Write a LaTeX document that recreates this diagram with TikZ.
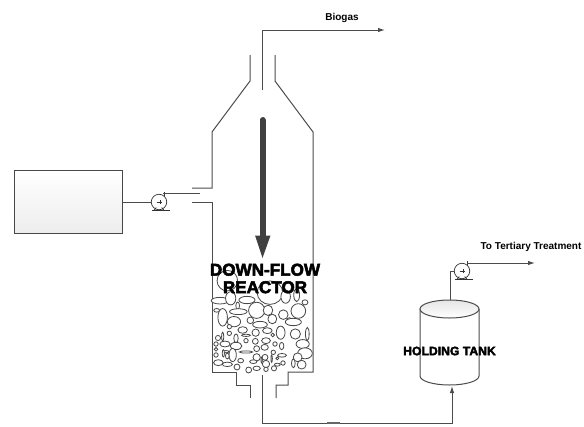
\documentclass[tikz,border=0pt]{standalone}
\usepackage{fontspec}
\setmainfont{Liberation Sans}
\newfontfamily\heavy[UprightFont={* Bold},FakeBold=3]{Liberation Sans}
\usetikzlibrary{arrows.meta,shadows}
\tikzset{
  x=1pt,y=-1pt,
  wall/.style={draw=black!70,line width=1pt},
  pipe/.style={draw=black!70,line width=1pt},
  flow/.style={pipe,-{Latex[length=7pt,width=4.5pt,black!70]}},
  bead/.style={draw=black!72,line width=.8pt,fill=white},
  pumpbody/.style={circle,draw=black!80,line width=.7pt,minimum size=15.5pt,inner sep=0pt},
  pumpbase/.style={draw=black!80,line width=.8pt},
  feedtank/.style={draw=black!72,line width=1pt,top color=white,bottom color=black!7,minimum width=108pt,minimum height=63pt,inner sep=0pt,drop shadow={shadow xshift=1pt,shadow yshift=-1pt,fill=black!25,opacity=.5}},
  bigtext/.style={font=\heavy\fontsize{17.1}{19}\selectfont,align=center,inner sep=0pt},
  tanktext/.style={font=\heavy\fontsize{12.2}{14}\selectfont,inner sep=0pt},
  smalltext/.style={font=\bfseries\fontsize{10}{11}\selectfont,inner sep=0pt},
}
\newcommand{\pumpmark}[1]{%
  \draw[pumpbase] (#1.center)++(-2.5,0) -- ++(5,0) (#1.center)++(1,-2.2) -- ++(0,4.4);
  \draw[pumpbase] (#1.south west)++(-1.5,2.3) -- ++(18,0);
  \draw[pumpbase] (#1.south west)++(1,2.3) -- ++(2,-2.5) (#1.south east)++(-1,2.3) -- ++(-2,-2.5);
  \draw[pumpbase] (#1.center)++(5,-10) -- ++(0,3.5);
}
\begin{document}
\begin{tikzpicture}
\useasboundingbox (0,0) rectangle (584,426);
% reactor walls
\coordinate (nl) at (250,55); \coordinate (nr) at (275,55);
\coordinate (sl) at (250,81); \coordinate (sr) at (275,81);
\coordinate (ul) at (212,132); \coordinate (ur) at (313,132);
\coordinate (il) at (212,188); \coordinate (iu) at (192,188);
\coordinate (jl) at (212,202); \coordinate (ju) at (192,202);
\coordinate (bl) at (212,372); \coordinate (br) at (313,372);
\draw[wall] (nl) -- (sl) -- (ul) -- (il) -- (iu);
\draw[wall] (ju) -- (jl) -- (bl) -- (236,372) -- (236,385) -- (250,385) -- (250,398);
\draw[wall] (nr) -- (sr) -- (ur) -- (br) -- (288,372) -- (288,385) -- (276,385) -- (276,398);
% media
\begin{scope}[shift={(190,250)},x=.3333pt,y=-.3333pt]
\foreach \px/\py/\ra/\rb in {
 112/92/28/28, 240/128/35/32, 90/152/24/9, 122/145/14/18, 171/150/22/10, 287/140/13/18,
 320/135/8/18, 345/157/8/7, 143/167/5/10, 80/181/8/5, 98/202/13/24, 145/185/24/8,
 200/181/22/22, 234/181/13/14, 280/194/13/13, 325/183/20/20, 132/215/18/14, 181/211/9/9,
 210/224/20/9, 247/207/12/13, 298/214/8/10, 310/216/22/10, 118/230/6/6, 158/240/13/9,
 197/248/10/10, 232/242/13/8, 272/248/12/18, 316/252/14/14, 352/252/5/18, 118/250/6/6,
 98/260/3/12, 84/264/7/7, 138/265/6/12, 168/256/12/3, 196/274/8/8, 228/272/12/8,
 248/255/5/5, 168/272/6/6, 105/282/14/8, 138/288/16/10, 78/282/6/6, 275/288/6/10,
 255/282/6/6, 338/282/18/12, 224/292/10/8, 200/296/8/8, 168/306/18/3, 345/310/20/15,
 78/298/5/5, 78/315/6/6, 108/305/8/3, 128/315/10/18, 100/310/3/10, 112/318/5/8,
 250/307/6/6, 200/322/10/10, 225/322/8/8, 276/316/12/5, 323/322/12/12, 245/326/2/10,
 215/330/2/8, 262/325/4/4, 152/332/8/6, 190/335/10/5, 85/338/13/8, 112/343/14/6,
 310/340/5/12, 335/344/12/12, 228/342/10/10, 141/351/8/8, 176/360/8/8, 200/355/10/6,
 228/358/6/6, 252/355/7/7, 262/344/8/4, 279/339/6/6}
 \draw[bead] (\px,\py) ellipse [x radius={1.1*\ra}, y radius={1.1*\rb}];
\end{scope}
% feed tank and pump
\node[feedtank] (feed) at (68,201.5) {};
\node[pumpbody] (pumpa) at (159,202) {};
\pumpmark{pumpa}
\coordinate (inlet) at (200,193);
\coordinate (pumpaout) at (163,193);
\draw[pipe] (feed.east |- pumpa) -- (pumpa.west);
\draw[pipe] (pumpaout) -- (inlet);
% biogas line
\coordinate (gasstart) at (262,90);
\coordinate (gasbend) at (262,30);
\coordinate (gasend) at (385,30);
\draw[flow] (gasstart) -- (gasbend) -- (gasend);
\node[smalltext] (biogas) at (342,18) {Biogas};
% down-flow arrow
\coordinate (downa) at (262.5,120);
\coordinate (downb) at (262.5,240);
\draw[line width=6pt,color=black!75,line cap=round] (downa) -- (downb);
\fill[black!75] (255,235.5) -- (270.5,235.5) -- (262.5,258) -- cycle;
% holding tank
\draw[wall,fill=white] (420,309) -- (420,376) arc[start angle=180,end angle=0,x radius=29.5,y radius=9] -- (479,309);
\draw[wall,top color=black!10,bottom color=white] (449.5,309) ellipse [x radius=29.5,y radius=9];
\node[inner sep=0pt,minimum width=59pt,minimum height=85pt] (tank) at (449.5,343) {};
% effluent pipe
\coordinate (outtop) at (262,375);
\coordinate (outbend) at (262,423);
\coordinate (outend) at (452,423);
\coordinate (tankin) at (452,386);
\draw[flow] (outtop) -- (outbend) -- (outend) -- (tankin);
\coordinate (darka) at (327,423); \coordinate (darkb) at (340,423);
\draw[black!60,line width=1.4pt] (darka) -- (darkb);
% second pump
\node[pumpbody] (pumpb) at (462,271) {};
\pumpmark{pumpb}
\coordinate (tankout) at (450,300);
\coordinate (tankbend) at (450,271);
\draw[pipe] (tankout) -- (tankbend) -- (pumpb.west);
\coordinate (pumpbout) at (467,263);
\coordinate (ttend) at (535,263);
\draw[flow] (pumpbout) -- (ttend);
\node[smalltext] (tertiary) at (531,246.5) {To Tertiary Treatment};
% labels
\node[bigtext] (reactor) at (265,278.5) {DOWN-FLOW\\[-1.5pt]REACTOR};
\node[tanktext] (tanklabel) at (449.5,351) {HOLDING TANK};
\end{tikzpicture}
\end{document}
